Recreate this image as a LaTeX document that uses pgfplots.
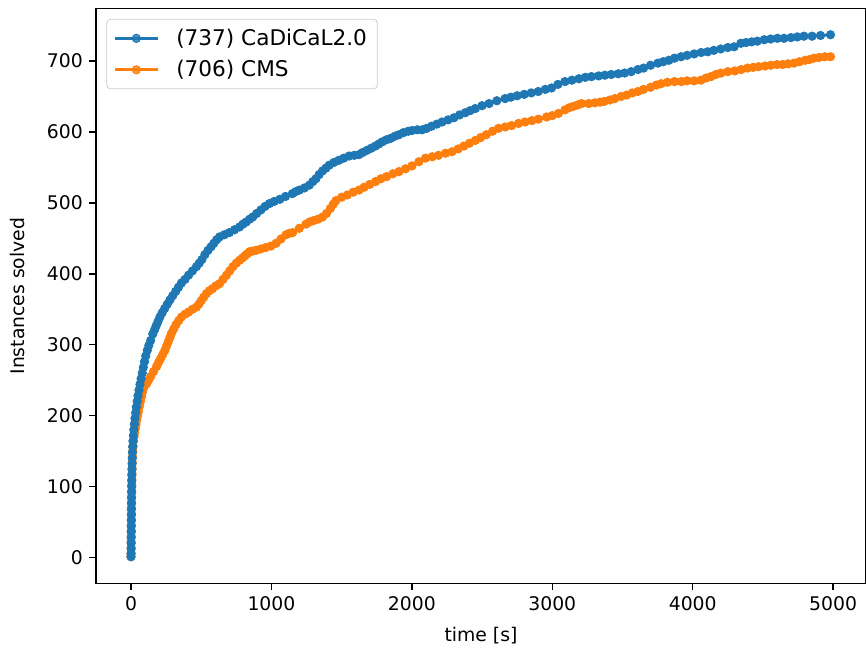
\documentclass[border=0pt]{standalone}
\usepackage{fontspec}
\setmainfont{DejaVu Sans}
\usepackage{pgfplots}
\pgfplotsset{compat=1.18}
\usetikzlibrary{calc}

\definecolor{mplblue}{HTML}{1F77B4}
\definecolor{mplorange}{HTML}{FF7F0E}

% time [s] needed to solve the n-th instance (cactus plot)
\pgfplotstableread{
x y
0 1
0.5 5
1 12
1 20
1.5 28
2 36
2 44
2.5 52
3 60
3 68
3.5 76
4 84
4.5 92
5 100
5.5 108
6 116
7 124
8 132
9 140
10 148
12 156
14 164
17 172
20 180
24 188
28 196
33 204
38 212
44 220
50 228
57 236
64 244
72 252
80 260
88 268
96 276
105 284
116 292
127 299
140 306
155 315
168 321
180 327
193 333
206 339
222 345
240 351
258 357
277 363
297 369
318 375
338 381
359 387
384 392
410 398
438 404
466 410
486 415
505 420
526 427
548 433
570 438
590 443
610 448
631 452
665 455
700 458
737 462
773 466
797 470
820 473
845 477
867 480
895 485
925 490
955 495
986 499
1020 502
1060 505
1100 509
1149 513
1175 516
1199 518
1235 521
1270 525
1295 530
1317 534
1340 540
1364 545
1388 549
1411 553
1445 557
1480 560
1515 563
1553 566
1590 567
1624 568
1650 571
1680 574
1710 577
1740 580
1765 583
1789 586
1820 589
1850 591
1880 594
1908 596
1940 599
1975 601
2002 602
2040 603
2073 603
2105 605
2140 608
2178 611
2215 614
2258 617
2300 620
2340 624
2380 627
2415 630
2452 633
2500 637
2550 640
2605 644
2664 647
2705 649
2750 651
2800 653
2850 655
2900 657
2950 660
2995 662
3040 667
3090 671
3140 673
3190 675
3235 677
3279 678
3330 679
3374 680
3420 681
3470 682
3515 683
3562 685
3610 688
3650 690
3700 694
3752 697
3790 699
3830 701
3870 704
3917 706
3960 708
4010 710
4060 712
4106 713
4150 715
4200 717
4250 719
4295 720
4343 725
4380 726
4420 727
4460 728
4509 730
4555 731
4603 732
4650 732
4700 733
4745 734
4792 735
4850 735
4910 736
4981 737
}\cadical

\pgfplotstableread{
x y
0 1
0.5 6
1 14
1 22
1.5 30
2 38
2 46
2.5 54
3 62
3 70
3.5 78
4 86
4.5 94
5 102
6 110
7 118
8 126
9 134
11 142
13 150
15 157
18 164
22 170
26 176
31 182
36 188
41 194
47 200
53 206
60 213
67 220
75 227
83 234
92 240
111 245
125 250
140 255
160 262
182 269
196 275
210 280
226 286
241 292
253 298
265 304
277 310
288 316
304 322
320 328
340 334
359 339
385 343
410 346
438 350
466 353
483 357
500 362
518 367
537 372
558 376
580 379
605 383
631 386
655 392
680 398
703 404
726 410
750 415
773 419
792 422
810 425
827 428
844 431
867 432
891 433
925 435
960 437
996 439
1033 443
1068 449
1104 455
1127 457
1151 458
1198 464
1246 470
1272 473
1300 475
1332 477
1364 480
1392 485
1420 492
1440 498
1459 503
1500 508
1540 511
1582 515
1624 518
1660 522
1700 526
1742 530
1780 534
1820 537
1865 541
1908 544
1955 548
2000 552
2050 558
2097 563
2145 565
2190 567
2240 570
2286 572
2330 576
2370 580
2410 584
2452 588
2490 592
2530 596
2575 601
2617 605
2665 607
2710 609
2760 612
2806 614
2855 616
2901 618
2960 621
3000 623
3043 626
3090 631
3120 634
3150 636
3180 638
3208 640
3260 640
3303 641
3340 642
3370 643
3410 645
3445 647
3490 650
3530 652
3570 655
3610 657
3650 660
3700 663
3740 666
3775 668
3820 670
3870 671
3920 671
3960 672
4010 672
4059 673
4095 676
4130 678
4165 681
4201 683
4250 685
4300 686
4345 688
4390 690
4430 691
4470 692
4515 693
4556 694
4600 695
4640 695
4680 696
4721 697
4760 699
4800 701
4830 702
4863 704
4900 705
4940 706
4981 706
}\cms

\begin{document}
\begin{tikzpicture}
  \begin{axis}[
      scale only axis,
      width=409.7pt, height=305.9pt,
      xmin=-249, xmax=5234,
      ymin=-36.85, ymax=773.85,
      xtick={0,1000,...,5000},
      ytick={0,100,...,700},
      xtick pos=bottom, ytick pos=left,
      tick align=outside,
      major tick length=3.5pt,
      tick style={black, line width=0.8pt},
      axis line style={line width=0.8pt},
      /pgf/number format/1000 sep={},
      /pgf/number format/assume math mode=true,
      ticklabel style={font=\fontsize{10}{12}\selectfont},
      label style={font=\fontsize{10}{12}\selectfont},
      xlabel={time [s]},
      ylabel={Instances solved},
      xlabel style={yshift=-1.6pt},
      ylabel style={yshift=4.8pt},
      reverse legend,
      legend cell align=left,
      legend image code/.code={
        \draw[#1, mark repeat=2, mark phase=2]
          plot coordinates {(0pt,0pt) (11.5pt,0pt) (23pt,0pt)};},
      legend style={at={(0,1)}, anchor=north west, xshift=5.5pt, yshift=-5.5pt,
        draw=black!20, rounded corners=2pt, fill=white, fill opacity=0.8,
        text opacity=1, font=\fontsize{11.5}{13.8}\selectfont,
        inner xsep=3.5pt, inner ysep=3pt, row sep=2.5pt,
        /tikz/every odd column/.append style={column sep=7pt}},
    ]
    \addplot[mplorange, line width=1.5pt, mark=*, mark size=2.2pt,
      mark options={fill=mplorange, draw=mplorange, line width=0.5pt}] table {\cms};
    \addplot[mplblue, line width=1.5pt, mark=*, mark size=2.2pt,
      mark options={fill=mplblue, draw=mplblue, line width=0.5pt}] table {\cadical};
    \legend{(706) CMS, (737) CaDiCaL2.0}
  \end{axis}
  \pgfresetboundingbox
  \path ($(current axis.south west)+(-51.1pt,-36pt)$) rectangle ($(current axis.north east)+(0pt,4.6pt)$);
\end{tikzpicture}
\end{document}
